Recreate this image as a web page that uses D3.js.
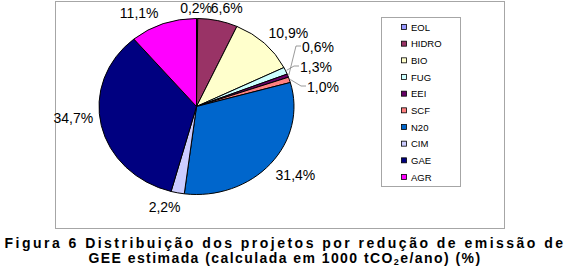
<!DOCTYPE html>
<html lang="pt">
<head>
<meta charset="UTF-8">
<title>Figura 6</title>
<script src="https://d3js.org/d3.v7.min.js"></script>
<style>
  body { margin: 0; background: #fff; font-family: "Liberation Sans", Arial, sans-serif; }
  .slice { stroke: #000; stroke-width: 1; vector-effect: non-scaling-stroke; }
  .lbl { font-size: 14px; fill: #000; }
  .leg text { font-size: 9.5px; fill: #000; }
  .cap { font-size: 14px; font-weight: bold; }
</style>
</head>
<body>
<script>
// categories and shares (%), clockwise from the top
const categories = ["EOL", "HIDRO", "BIO", "FUG", "EEI", "SCF", "N20", "CIM", "GAE", "AGR"];
const values = [0.2, 6.6, 10.9, 1.3, 0.6, 1.0, 31.4, 2.2, 34.7, 11.1];
const colors = ["#9999FF", "#993366", "#FFFFCC", "#CCFFFF", "#660066", "#FF8080", "#0066CC", "#CCCCFF", "#000080", "#FF00FF"];
const captionLines = ["Figura 6 Distribuição dos projetos por redução de emissão de",
                      "GEE estimada (calculada em 1000 tCO|2|e/ano) (%)"];

const W = 569, H = 271;
const cx = 196.5, cy = 106.5, rx = 97.5, ry = 88;

// label nudges relative to the rim point at each slice's mid angle
const labelShift = [[-1, -11], [9, -13], [24, -10], null, null, null, [25, 11], [-13, 14], [-28, -7], [-24, -11]];
// small slices get leader lines, labels stacked to the right
const leaderLabels = { 4: [302, 47], 3: [300, 67], 5: [307, 87] };
const captionWidth = [561, 393];

const svg = d3.select("body").append("svg").attr("width", W).attr("height", H);

// outer frame
svg.append("rect").attr("x", 55.5).attr("y", 1.5).attr("width", 449).attr("height", 227)
  .attr("fill", "#fff").attr("stroke", "#a6a6a6");

const fmt = v => d3.format(".1f")(v).replace(".", ",") + "%";

const pie = d3.pie().sort(null).value(d => d);
const arcs = pie(values);
const arc = d3.arc().innerRadius(0).outerRadius(rx);

const g = svg.append("g").attr("transform", `translate(${cx},${cy}) scale(1,${ry / rx})`);
g.selectAll("path").data(arcs).enter().append("path")
  .attr("class", "slice")
  .attr("d", arc)
  .attr("fill", (d, i) => colors[i]);

function rim(a, k = 0) {
  return [cx + (rx + k) * Math.sin(a), cy - (ry + k) * Math.cos(a)];
}

arcs.forEach((d, i) => {
  const mid = (d.startAngle + d.endAngle) / 2;
  if (leaderLabels[i]) {
    const [lx, ly] = leaderLabels[i];
    const p = rim(mid, 1);
    svg.append("polyline")
      .attr("points", [[p[0], p[1]], [lx - 6, ly - 1], [lx - 1, ly - 1]].map(q => q.join(",")).join(" "))
      .attr("fill", "none").attr("stroke", "#808080").attr("stroke-width", 0.8);
    svg.append("text").attr("class", "lbl")
      .attr("x", lx).attr("y", ly + 4.5)
      .text(fmt(values[i]));
  } else {
    const p = rim(mid);
    svg.append("text").attr("class", "lbl")
      .attr("x", p[0] + labelShift[i][0]).attr("y", p[1] + labelShift[i][1] + 5)
      .attr("text-anchor", "middle")
      .text(fmt(values[i]));
  }
});

// legend
svg.append("rect").attr("x", 381.5).attr("y", 17.5).attr("width", 79).attr("height", 169)
  .attr("fill", "#fff").attr("stroke", "#a6a6a6");
const y = d3.scalePoint().domain(categories).range([27, 177]);
const leg = svg.append("g").attr("class", "leg");
const it = leg.selectAll("g").data(categories).enter().append("g")
  .attr("transform", d => `translate(0,${y(d)})`);
it.append("rect").attr("x", 401.5).attr("y", -2.5).attr("width", 5).attr("height", 5)
  .attr("fill", (d, i) => colors[i]).attr("stroke", "#000").attr("stroke-width", 0.8);
it.append("text").attr("x", 411).attr("y", 3.5).text(d => d);

// caption, letter spacing stretched to the reference width
captionLines.forEach((line, k) => {
  const t = svg.append("text").attr("class", "cap")
    .attr("x", 285).attr("y", 248 + k * 14.5).attr("text-anchor", "middle");
  line.split("|").forEach((part, j) => {
    const s = t.append("tspan").text(part);
    if (j === 1) s.attr("font-size", "9px").attr("dy", 2);
    if (j === 2) s.attr("dy", -2);
  });
  const n = line.replace(/\|/g, "").length;
  const natural = t.node().getComputedTextLength();
  t.style("letter-spacing", ((captionWidth[k] - natural) / n) + "px");
});
</script>
</body>
</html>
